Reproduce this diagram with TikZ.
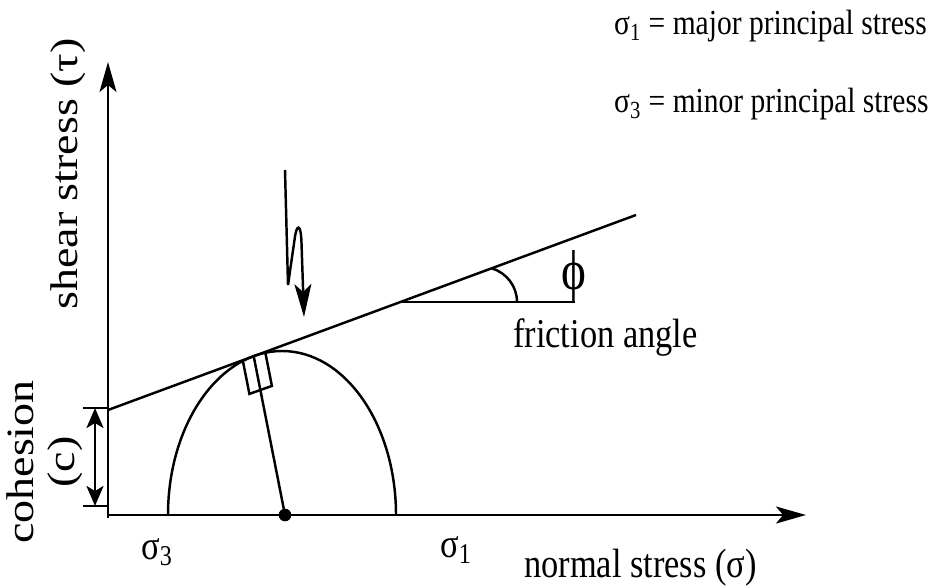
\documentclass[tikz,border=0pt]{standalone}
\usepackage{fontspec}
\setmainfont[FakeStretch=0.84]{Liberation Serif}
\newfontfamily\uprfont[FakeStretch=1.19]{Liberation Serif}
\usetikzlibrary{arrows.meta, calc}
\tikzset{
  every picture/.style={line width=1.4pt},
  axis/.style={-{Stealth[length=0.6cm, width=0.34cm, inset=0.14cm]}},
  zig/.style={-{Stealth[length=0.66cm, width=0.34cm, inset=0.16cm]}},
  dim/.style={{Stealth[length=0.4cm, width=0.34cm, inset=0.1cm]}-{Stealth[length=0.4cm, width=0.34cm, inset=0.1cm]}},
  lbl/.style={font=\fontsize{23.3}{26}\selectfont, inner sep=0pt},
  deflbl/.style={font=\fontsize{20}{24}\selectfont, inner sep=0pt, anchor=base west},
  rotlbl/.style={font=\uprfont\fontsize{22}{23.3}\selectfont, rotate=90, align=center, inner sep=0pt, anchor=south},
}
\begin{document}
\begin{tikzpicture}[x=0.02cm, y=0.02cm]
  \useasboundingbox (0,0) rectangle (935,585);
  % axes
  \coordinate (O) at (108,70);
  \coordinate (ytop) at (108,523);
  \coordinate (xend) at (806,70);
  \draw[axis] ($(O)+(0,-3)$) -- (ytop);
  \draw[axis] (O) -- (xend);
  % failure envelope
  \coordinate (C) at (108,175);
  \coordinate (E) at (636,370);
  \draw (C) -- (E);
  % Mohr circle, centre and radius to the tangent point
  \coordinate (M) at (285,70);
  \coordinate (T) at (253.7,228.8);
  \draw (168,70) arc[start angle=180, end angle=0, x radius=114, y radius=164];
  \draw (M) -- (T);
  \fill (M) circle (3.6pt);
  \draw (243,223.5) -- (249.4,191.1) -- (271.9,199.1) -- (265.5,231.5);
  % lightning arrow
  \draw[zig] (285,415) -- (288,300) -- (294.5,345) .. controls (296.5,362) and (301,362) .. (301.5,342) -- (304,268);
  % friction angle
  \coordinate (F) at (400.4,283);
  \coordinate (Fend) at (575,283);
  \draw (F) -- (Fend);
  \draw (517,283) arc[start angle=0, end angle=74, radius=35];
  \node[font=\fontsize{32}{32}\selectfont, inner sep=0pt, anchor=south] (phi) at (574,282) {ϕ};
  \node[lbl, anchor=base west] (fa) at (512,238) {friction angle};
  % cohesion
  \coordinate (ctop) at (95,177);
  \coordinate (cbot) at (95,79);
  \draw (83,177) -- (108,177);
  \draw (83,79) -- (108,79);
  \draw[dim] (ctop) -- (cbot);
  % labels
  \node[deflbl] (s1def) at (613,550) {σ\textsubscript{1} = major principal stress};
  \node[deflbl] (s3def) at (613,472) {σ\textsubscript{3} = minor principal stress};
  \node[lbl] (s3) at (157,33) {σ\textsubscript{3}};
  \node[lbl] (s1) at (456,35) {σ\textsubscript{1}};
  \node[lbl, anchor=base west] (nx) at (523,8) {normal stress (σ)};
  \node[rotlbl] (ny) at (87,411) {shear stress (τ)};
  \node[rotlbl] (coh) at (84,123) {cohesion\\(c)};
\end{tikzpicture}
\end{document}
